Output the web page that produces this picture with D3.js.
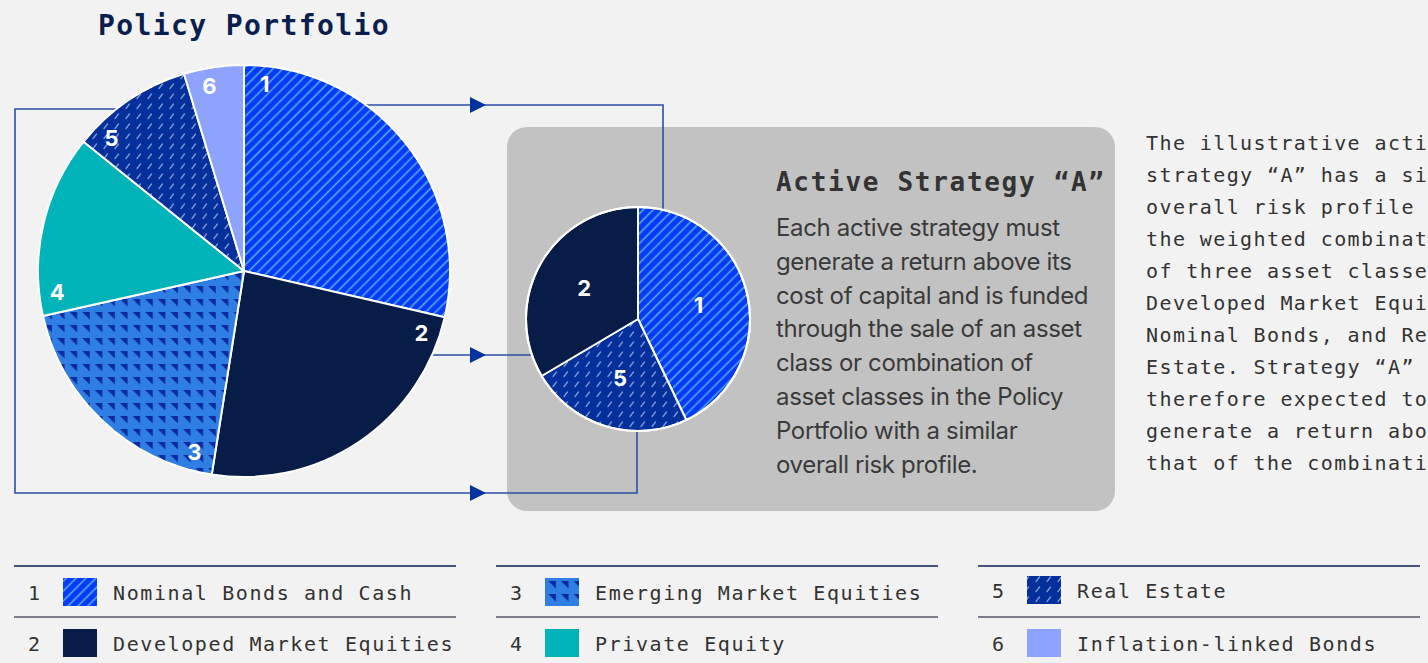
<!DOCTYPE html>
<html>
<head>
<meta charset="utf-8">
<script src="https://cdn.jsdelivr.net/npm/d3@7"></script>
<style>
  html, body { margin: 0; padding: 0; background: #f2f2f2; }
  svg { display: block; }
</style>
</head>
<body>
<div id="chart"></div>
<script>
// data
const ids = [1, 2, 3, 4, 5, 6];
const categories = [
    "Nominal Bonds and Cash",
    "Developed Market Equities",
    "Emerging Market Equities",
    "Private Equity",
    "Real Estate",
    "Inflation-linked Bonds"
];
const policyWeights = [28.6, 23.9, 19.0, 14.3, 9.5, 4.7];
const strategyIds = [1, 5, 2];
const strategyWeights = [42.9, 23.6, 33.5];

const policyTitle = "Policy Portfolio";
const strategyTitle = "Active Strategy \u201CA\u201D";
const strategyText = [
    "Each active strategy must",
    "generate a return above its",
    "cost of capital and is funded",
    "through the sale of an asset",
    "class or combination of",
    "asset classes in the Policy",
    "Portfolio with a similar",
    "overall risk profile."
];
const noteText = [
    "The illustrative active",
    "strategy \u201CA\u201D has a similar",
    "overall risk profile to",
    "the weighted combination",
    "of three asset classes:",
    "Developed Market Equities,",
    "Nominal Bonds, and Real",
    "Estate. Strategy \u201CA\u201D is",
    "therefore expected to",
    "generate a return above",
    "that of the combination."
];

// styles
const fills = ["url(#pat-stripes)", "#071d47", "url(#pat-tri)", "#00b3b8", "url(#pat-dash)", "#8ea3fd"];
const mono = "'DejaVu Sans Mono', 'Liberation Mono', monospace";
const sans = "Inter, 'Noto Sans', sans-serif";
const lineColor = "#2a4fa6";
const arrowColor = "#0033a0";

const W = 1428, H = 663;
const svg = d3.select("#chart").append("svg")
    .attr("width", W).attr("height", H);

svg.append("rect").attr("width", W).attr("height", H).attr("fill", "#f2f2f2");

// patterns
const defs = svg.append("defs");
const stripes = defs.append("pattern").attr("id", "pat-stripes")
    .attr("patternUnits", "userSpaceOnUse").attr("width", 7).attr("height", 7)
    .attr("patternTransform", "rotate(45)");
stripes.append("rect").attr("width", 7).attr("height", 7).attr("fill", "#0838fb");
stripes.append("line").attr("x1", 3.5).attr("y1", 0).attr("x2", 3.5).attr("y2", 7)
    .attr("stroke", "#4fb6d6").attr("stroke-width", 1.5);

const tri = defs.append("pattern").attr("id", "pat-tri")
    .attr("patternUnits", "userSpaceOnUse").attr("width", 12.6).attr("height", 13);
tri.append("rect").attr("width", 12.6).attr("height", 13).attr("fill", "#2f7ee3");
tri.append("path").attr("d", "M2,2L9.5,2L9.5,9.5Z").attr("fill", "#0a2a9e");

const dash = defs.append("pattern").attr("id", "pat-dash")
    .attr("patternUnits", "userSpaceOnUse").attr("width", 11).attr("height", 10);
dash.append("rect").attr("width", 11).attr("height", 10).attr("fill", "#03309b");
dash.append("line").attr("x1", 3).attr("y1", 7.5).attr("x2", 6.5).attr("y2", 3)
    .attr("stroke", "#7f98d8").attr("stroke-width", 1.3).attr("stroke-linecap", "round");

// strategy box
const box = {x: 507, y: 127, w: 608, h: 384};
svg.append("rect")
    .attr("x", box.x).attr("y", box.y).attr("width", box.w).attr("height", box.h)
    .attr("rx", 20).attr("fill", "#c2c2c2");

// pie geometry
const big = {cx: 244, cy: 271, r: 206};
const small = {cx: 638, cy: 319, r: 112};

// x of a circle's edge at a given y
function edgeX(c, y, side) {
    const dy = y - c.cy;
    return c.cx + side * Math.sqrt(c.r * c.r - dy * dy);
}
function edgeY(c, x, side) {
    const dx = x - c.cx;
    return c.cy + side * Math.sqrt(c.r * c.r - dx * dx);
}

// connector lines
const arrowTip = 486;
const conn = svg.append("g").attr("fill", "none").attr("stroke", lineColor).attr("stroke-width", 1.6);
const topY = 105, midY = 355, leftY = 109, botY = 493, leftX = 15, topX = 663, botX = 637;
conn.append("path").attr("d", d3.line()([
    [edgeX(big, topY, 1), topY], [topX, topY], [topX, edgeY(small, topX, -1)]
]));
conn.append("path").attr("d", d3.line()([
    [edgeX(big, midY, 1), midY], [edgeX(small, midY, -1), midY]
]));
conn.append("path").attr("d", d3.line()([
    [edgeX(big, leftY, -1), leftY], [leftX, leftY], [leftX, botY], [botX, botY], [botX, edgeY(small, botX, 1)]
]));
[topY, midY, botY].forEach(y => {
    svg.append("path")
        .attr("d", `M${arrowTip - 16},${y - 8}L${arrowTip},${y}L${arrowTip - 16},${y + 8}Z`)
        .attr("fill", arrowColor);
});

// pies
const pie = d3.pie().sort(null).value(d => d.value);

function drawPie(c, rows, labelFn, strokeW) {
    const g = svg.append("g").attr("transform", `translate(${c.cx},${c.cy})`);
    const arc = d3.arc().innerRadius(0).outerRadius(c.r);
    const arcs = pie(rows);
    g.selectAll("path.slice").data(arcs).join("path")
        .attr("class", "slice")
        .attr("d", arc)
        .attr("fill", d => fills[d.data.id - 1])
        .attr("stroke", "#ffffff").attr("stroke-width", strokeW)
        .attr("stroke-linejoin", "round");
    g.selectAll("text").data(arcs).join("text")
        .attr("transform", d => `translate(${labelFn(d)})`)
        .attr("text-anchor", "middle").attr("dominant-baseline", "central")
        .attr("fill", "#ffffff").attr("font-family", sans)
        .attr("font-weight", 700).attr("font-size", 22)
        .text(d => d.data.id);
    return g;
}

const bigRows = ids.map((id, i) => ({id: id, value: policyWeights[i]}));
drawPie(big, bigRows, d => {
    const a = d.startAngle + 0.11, rr = 188;
    return [rr * Math.sin(a), -rr * Math.cos(a)];
}, 2);

const smallRows = strategyIds.map((id, i) => ({id: id, value: strategyWeights[i]}));
const smallLabelArc = d3.arc().innerRadius(0).outerRadius(124);
drawPie(small, smallRows, d => smallLabelArc.centroid(d), 2);
svg.append("circle").attr("cx", small.cx).attr("cy", small.cy).attr("r", small.r)
    .attr("fill", "none").attr("stroke", "#ffffff").attr("stroke-width", 2);

// titles and text
svg.append("text").attr("x", 98).attr("y", 35)
    .attr("font-family", mono).attr("font-weight", 700).attr("font-size", 28)
    .attr("letter-spacing", 1.4).attr("fill", "#0b1f4f")
    .text(policyTitle);

svg.append("text").attr("x", 776).attr("y", 191)
    .attr("font-family", mono).attr("font-weight", 700).attr("font-size", 26)
    .attr("letter-spacing", 1.7).attr("fill", "#333333")
    .text(strategyTitle);

svg.append("g").selectAll("text").data(strategyText).join("text")
    .attr("x", 776).attr("y", (d, i) => 236 + i * 33.8)
    .attr("font-family", sans).attr("font-size", 24).attr("letter-spacing", -0.35)
    .attr("fill", "#3a3a3a")
    .text(d => d);

// the note runs past the right edge of the page, as in the original layout
svg.append("g").selectAll("text").data(noteText).join("text")
    .attr("x", 1146).attr("y", (d, i) => 150 + i * 32)
    .attr("font-family", mono).attr("font-size", 20).attr("letter-spacing", 1.4)
    .attr("fill", "#333333")
    .text(d => d);

// legend
const colX = [14, 496, 978];
const colW = 442;
const legend = svg.append("g");
colX.forEach((x0, ci) => {
    legend.append("line").attr("x1", x0).attr("x2", x0 + colW).attr("y1", 566).attr("y2", 566)
        .attr("stroke", "#0b1f4f").attr("stroke-width", 1.5);
    legend.append("line").attr("x1", x0).attr("x2", x0 + colW).attr("y1", 617).attr("y2", 617)
        .attr("stroke", "#7c7f88").attr("stroke-width", 2);
});
const legendRows = ids.map((id, i) => ({id: id, name: categories[i], col: Math.floor(i / 2), row: i % 2}));
const item = legend.selectAll("g.item").data(legendRows).join("g")
    .attr("class", "item")
    .attr("transform", d => `translate(${colX[d.col]},${d.row === 0 ? (d.col === 2 ? 564 : 566) : 617})`);
item.append("text").attr("x", 14).attr("y", 34)
    .attr("font-family", mono).attr("font-size", 20).attr("fill", "#333333")
    .text(d => d.id);
item.append("rect").attr("x", 49).attr("y", 12).attr("width", 34).attr("height", 28)
    .attr("fill", d => fills[d.id - 1]);
item.append("text").attr("x", 99).attr("y", 34)
    .attr("font-family", mono).attr("font-size", 20).attr("letter-spacing", 1.6)
    .attr("fill", "#333333")
    .text(d => d.name);
</script>
</body>
</html>
